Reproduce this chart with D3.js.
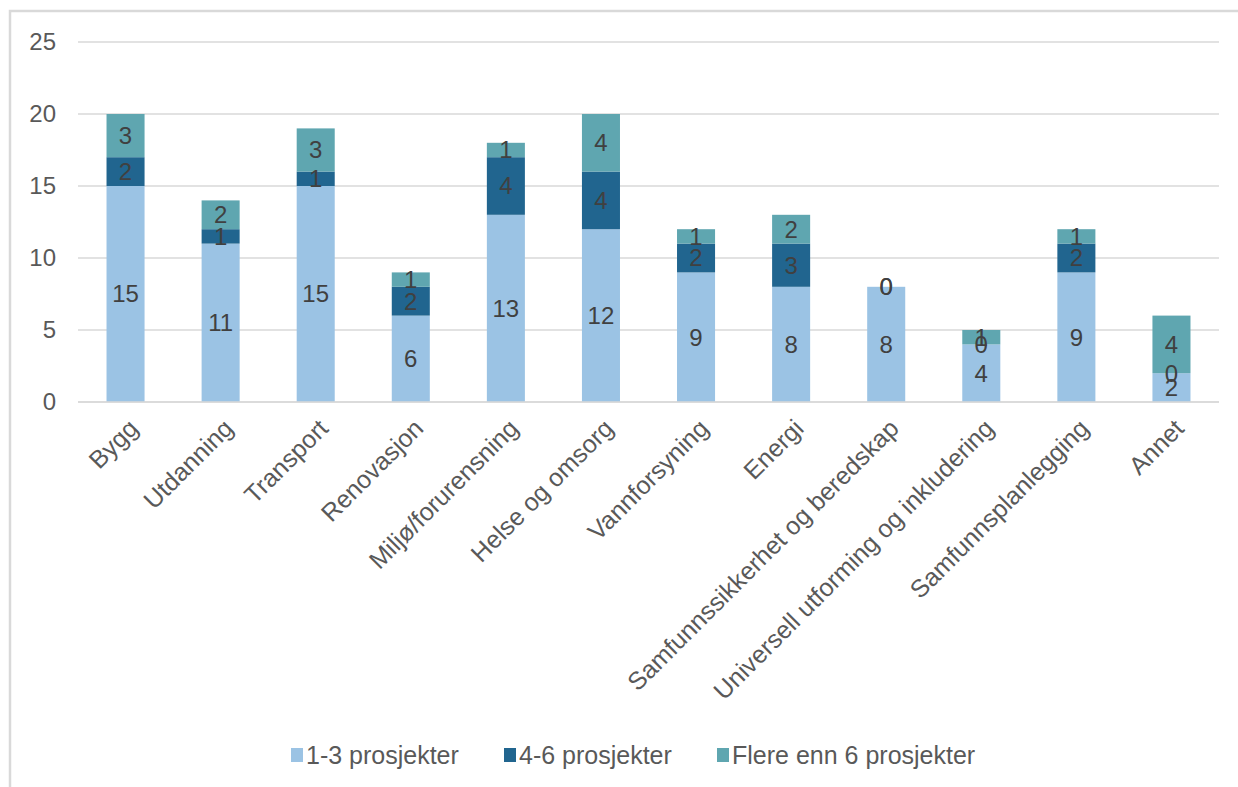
<!DOCTYPE html>
<html>
<head>
<meta charset="utf-8">
<script src="https://cdn.jsdelivr.net/npm/d3@7"></script>
<style>
  body { margin: 0; background: #fff; }
  svg { font-family: "Liberation Sans", Arial, sans-serif; }
</style>
</head>
<body>
<div id="wrapper"></div>
<script>
const categories = ["Bygg", "Utdanning", "Transport", "Renovasjon", "Miljø/forurensning", "Helse og omsorg",
    "Vannforsyning", "Energi", "Samfunnssikkerhet og beredskap", "Universell utforming og inkludering",
    "Samfunnsplanlegging", "Annet"];
const seriesNames = ["1-3 prosjekter", "4-6 prosjekter", "Flere enn 6 prosjekter"];
const small = [15, 11, 15, 6, 13, 12, 9, 8, 8, 4, 9, 2];
const medium = [2, 1, 1, 2, 4, 4, 2, 3, 0, 0, 2, 0];
const large = [3, 2, 3, 1, 1, 4, 1, 2, 0, 1, 1, 4];
const yTicks = [0, 5, 10, 15, 20, 25];
const colors = ["#9bc3e4", "#21658f", "#5fa6b0"];

function buildChart() {
    const width = 1238, height = 787;
    const plot = { left: 78, right: 1219, top: 42, bottom: 402 };

    const svg = d3.select("#wrapper").append("svg")
        .attr("width", width)
        .attr("height", height);

    // chart frame (cut off at right and bottom)
    svg.append("path")
        .attr("d", `M10,${height} L10,11 L${width},11`)
        .attr("fill", "none")
        .attr("stroke", "#d9d9d9")
        .attr("stroke-width", 2.5);

    const rows = categories.map((c, i) => ({ cat: c, s0: small[i], s1: medium[i], s2: large[i] }));
    const stacked = d3.stack().keys(["s0", "s1", "s2"])(rows);

    const x = d3.scaleBand()
        .domain(categories)
        .range([plot.left, plot.right])
        .paddingInner(0.6)
        .paddingOuter(0.3);

    const y = d3.scaleLinear()
        .domain([0, 25])
        .range([plot.bottom, plot.top]);

    // gridlines
    svg.append("g")
        .selectAll("line")
        .data(yTicks)
        .join("line")
        .attr("x1", plot.left)
        .attr("x2", plot.right)
        .attr("y1", d => y(d))
        .attr("y2", d => y(d))
        .attr("stroke", "#d9d9d9")
        .attr("stroke-width", 1.5);

    // y tick labels
    svg.append("g")
        .selectAll("text")
        .data(yTicks)
        .join("text")
        .attr("x", 56)
        .attr("y", d => y(d))
        .attr("dy", "0.35em")
        .attr("text-anchor", "end")
        .attr("font-size", 24)
        .attr("fill", "#595959")
        .text(d => d);

    // bars
    const layers = svg.append("g")
        .selectAll("g")
        .data(stacked)
        .join("g")
        .attr("fill", (d, i) => colors[i]);

    layers.selectAll("rect")
        .data(d => d)
        .join("rect")
        .attr("x", d => x(d.data.cat))
        .attr("width", x.bandwidth())
        .attr("y", d => y(d[1]))
        .attr("height", d => y(d[0]) - y(d[1]));

    // data labels
    const labels = svg.append("g");
    stacked.forEach(layer => {
        labels.selectAll(null)
            .data(layer)
            .join("text")
            .attr("x", d => x(d.data.cat) + x.bandwidth() / 2)
            .attr("y", d => y((d[0] + d[1]) / 2))
            .attr("dy", "0.35em")
            .attr("text-anchor", "middle")
            .attr("font-size", 24)
            .attr("fill", "#404040")
            .text(d => d[1] - d[0]);
    });

    // x axis line
    svg.append("line")
        .attr("x1", plot.left)
        .attr("x2", plot.right)
        .attr("y1", plot.bottom)
        .attr("y2", plot.bottom)
        .attr("stroke", "#d9d9d9")
        .attr("stroke-width", 1.5);

    // category labels, rotated
    svg.append("g")
        .selectAll("text")
        .data(categories)
        .join("text")
        .attr("transform", d => `translate(${x(d) + x.bandwidth() / 2 + 14},${plot.bottom + 28}) rotate(-45)`)
        .attr("text-anchor", "end")
        .attr("font-size", 25)
        .attr("fill", "#595959")
        .text(d => d);

    // legend
    const legendX = [291, 504, 717];
    const legend = svg.append("g")
        .selectAll("g")
        .data(seriesNames)
        .join("g")
        .attr("transform", (d, i) => `translate(${legendX[i]},755)`);
    legend.append("rect")
        .attr("x", 0)
        .attr("y", -7)
        .attr("width", 12)
        .attr("height", 14)
        .attr("fill", (d, i) => colors[i]);
    legend.append("text")
        .attr("x", 15)
        .attr("dy", "0.35em")
        .attr("font-size", 25)
        .attr("fill", "#595959")
        .text(d => d);
}

buildChart();
</script>
</body>
</html>
